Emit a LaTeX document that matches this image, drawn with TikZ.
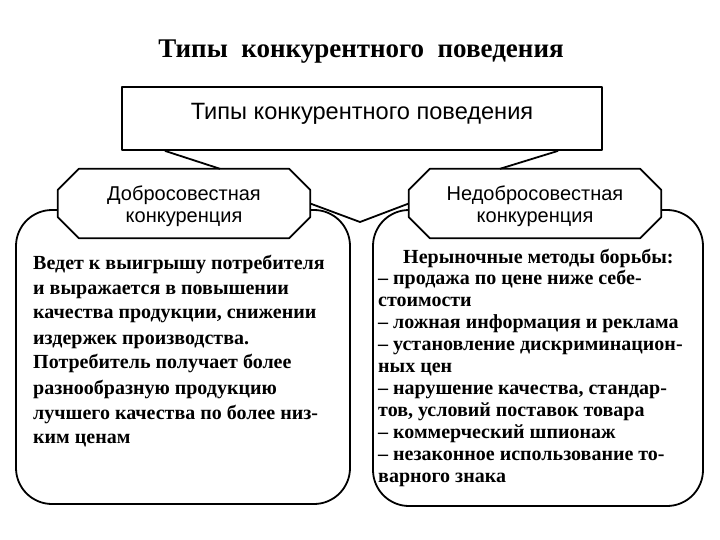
\documentclass[tikz,border=0pt]{standalone}
\usepackage{fontspec}
\setmainfont{Liberation Serif}
\newfontfamily\sansf{Liberation Sans}
\usetikzlibrary{calc}
\tikzset{
  ln/.style={line width=1.8pt, line join=round},
  topbox/.style={ln, draw, fill=white, minimum width=480pt, minimum height=63pt, inner sep=0pt},
  octbox/.style={minimum width=252pt, minimum height=69pt, inner sep=0pt},
  octtext/.style={inner sep=0pt, align=center, font=\sansf\fontsize{20}{22}\selectfont},
  panel/.style={ln, draw, rounded corners=36pt, inner sep=0pt},
  body/.style={anchor=base west, inner sep=0pt},
}
\newcommand\octagonof[1]{%
  \draw[ln, fill=white] ([xshift=21pt]#1.north west) -- ([xshift=-21pt]#1.north east)
    -- ([yshift=-21pt]#1.north east) -- ([yshift=21pt]#1.south east)
    -- ([xshift=-21pt]#1.south east) -- ([xshift=21pt]#1.south west)
    -- ([yshift=21pt]#1.south west) -- ([yshift=-21pt]#1.north west) -- cycle;}
\begin{document}
\begin{tikzpicture}[x=1pt,y=-1pt]
\useasboundingbox (0,0) rectangle (720,540);
% title
\node[anchor=base, inner sep=0pt, font=\fontsize{27}{30}\selectfont\bfseries] (title) at (361,58)
  {Типы\hspace{0.5em}конкурентного\hspace{0.5em}поведения};
% panels
\node[panel, minimum width=334pt, minimum height=294pt] (goodpanel) at (183,357) {};
\node[panel, minimum width=330pt, minimum height=296pt] (badpanel) at (538,358) {};
% octagons
\node[octbox] (good) at (184,203.5) {};
\node[octbox] (bad) at (535,203.5) {};
\coordinate (vdip) at (360,222);
\draw[ln] (good.east) -- (vdip) -- (bad.west);
\octagonof{good}
\octagonof{bad}
\node[octtext] (goodlabel) at ([yshift=-3pt]good.center) {Добросовестная\\конкуренция};
\node[octtext] (badlabel) at ([yshift=-3pt]bad.center) {Недобросовестная\\конкуренция};
% top box
\node[topbox] (top) at (362,118.5) {};
\node[anchor=base, inner sep=0pt, font=\sansf\fontsize{23.6}{26}\selectfont] (toptext) at (362,120)
  {Типы конкурентного поведения};
\draw[ln] ([xshift=-197pt]top.south) -- ([xshift=36pt]good.north);
\draw[ln] ([xshift=196pt]top.south) -- ([xshift=-35pt]bad.north);
% body texts
\node[body] (goodtext) at (33,269) {\parbox[t]{320pt}{\raggedright\fontsize{20}{25}\selectfont\bfseries
Ведет к выигрышу потребителя\\
и выражается в повышении\\
качества продукции, снижении\\
издержек производства.\\
Потребитель получает более\\
разнообразную продукцию\\
лучшего качества по более низ-\\
ким ценам}};
\node[body] (badtext) at (378,263) {\parbox[t]{330pt}{\raggedright\fontsize{20}{21.9}\selectfont\bfseries
\hspace*{25pt}Нерыночные методы борьбы:\\
– продажа по цене ниже себе-\\
стоимости\\
– ложная информация и реклама\\
– установление дискриминацион-\\
ных цен\\
– нарушение качества, стандар-\\
тов, условий поставок товара\\
– коммерческий шпионаж\\
– незаконное использование то-\\
варного знака}};
\end{tikzpicture}
\end{document}
